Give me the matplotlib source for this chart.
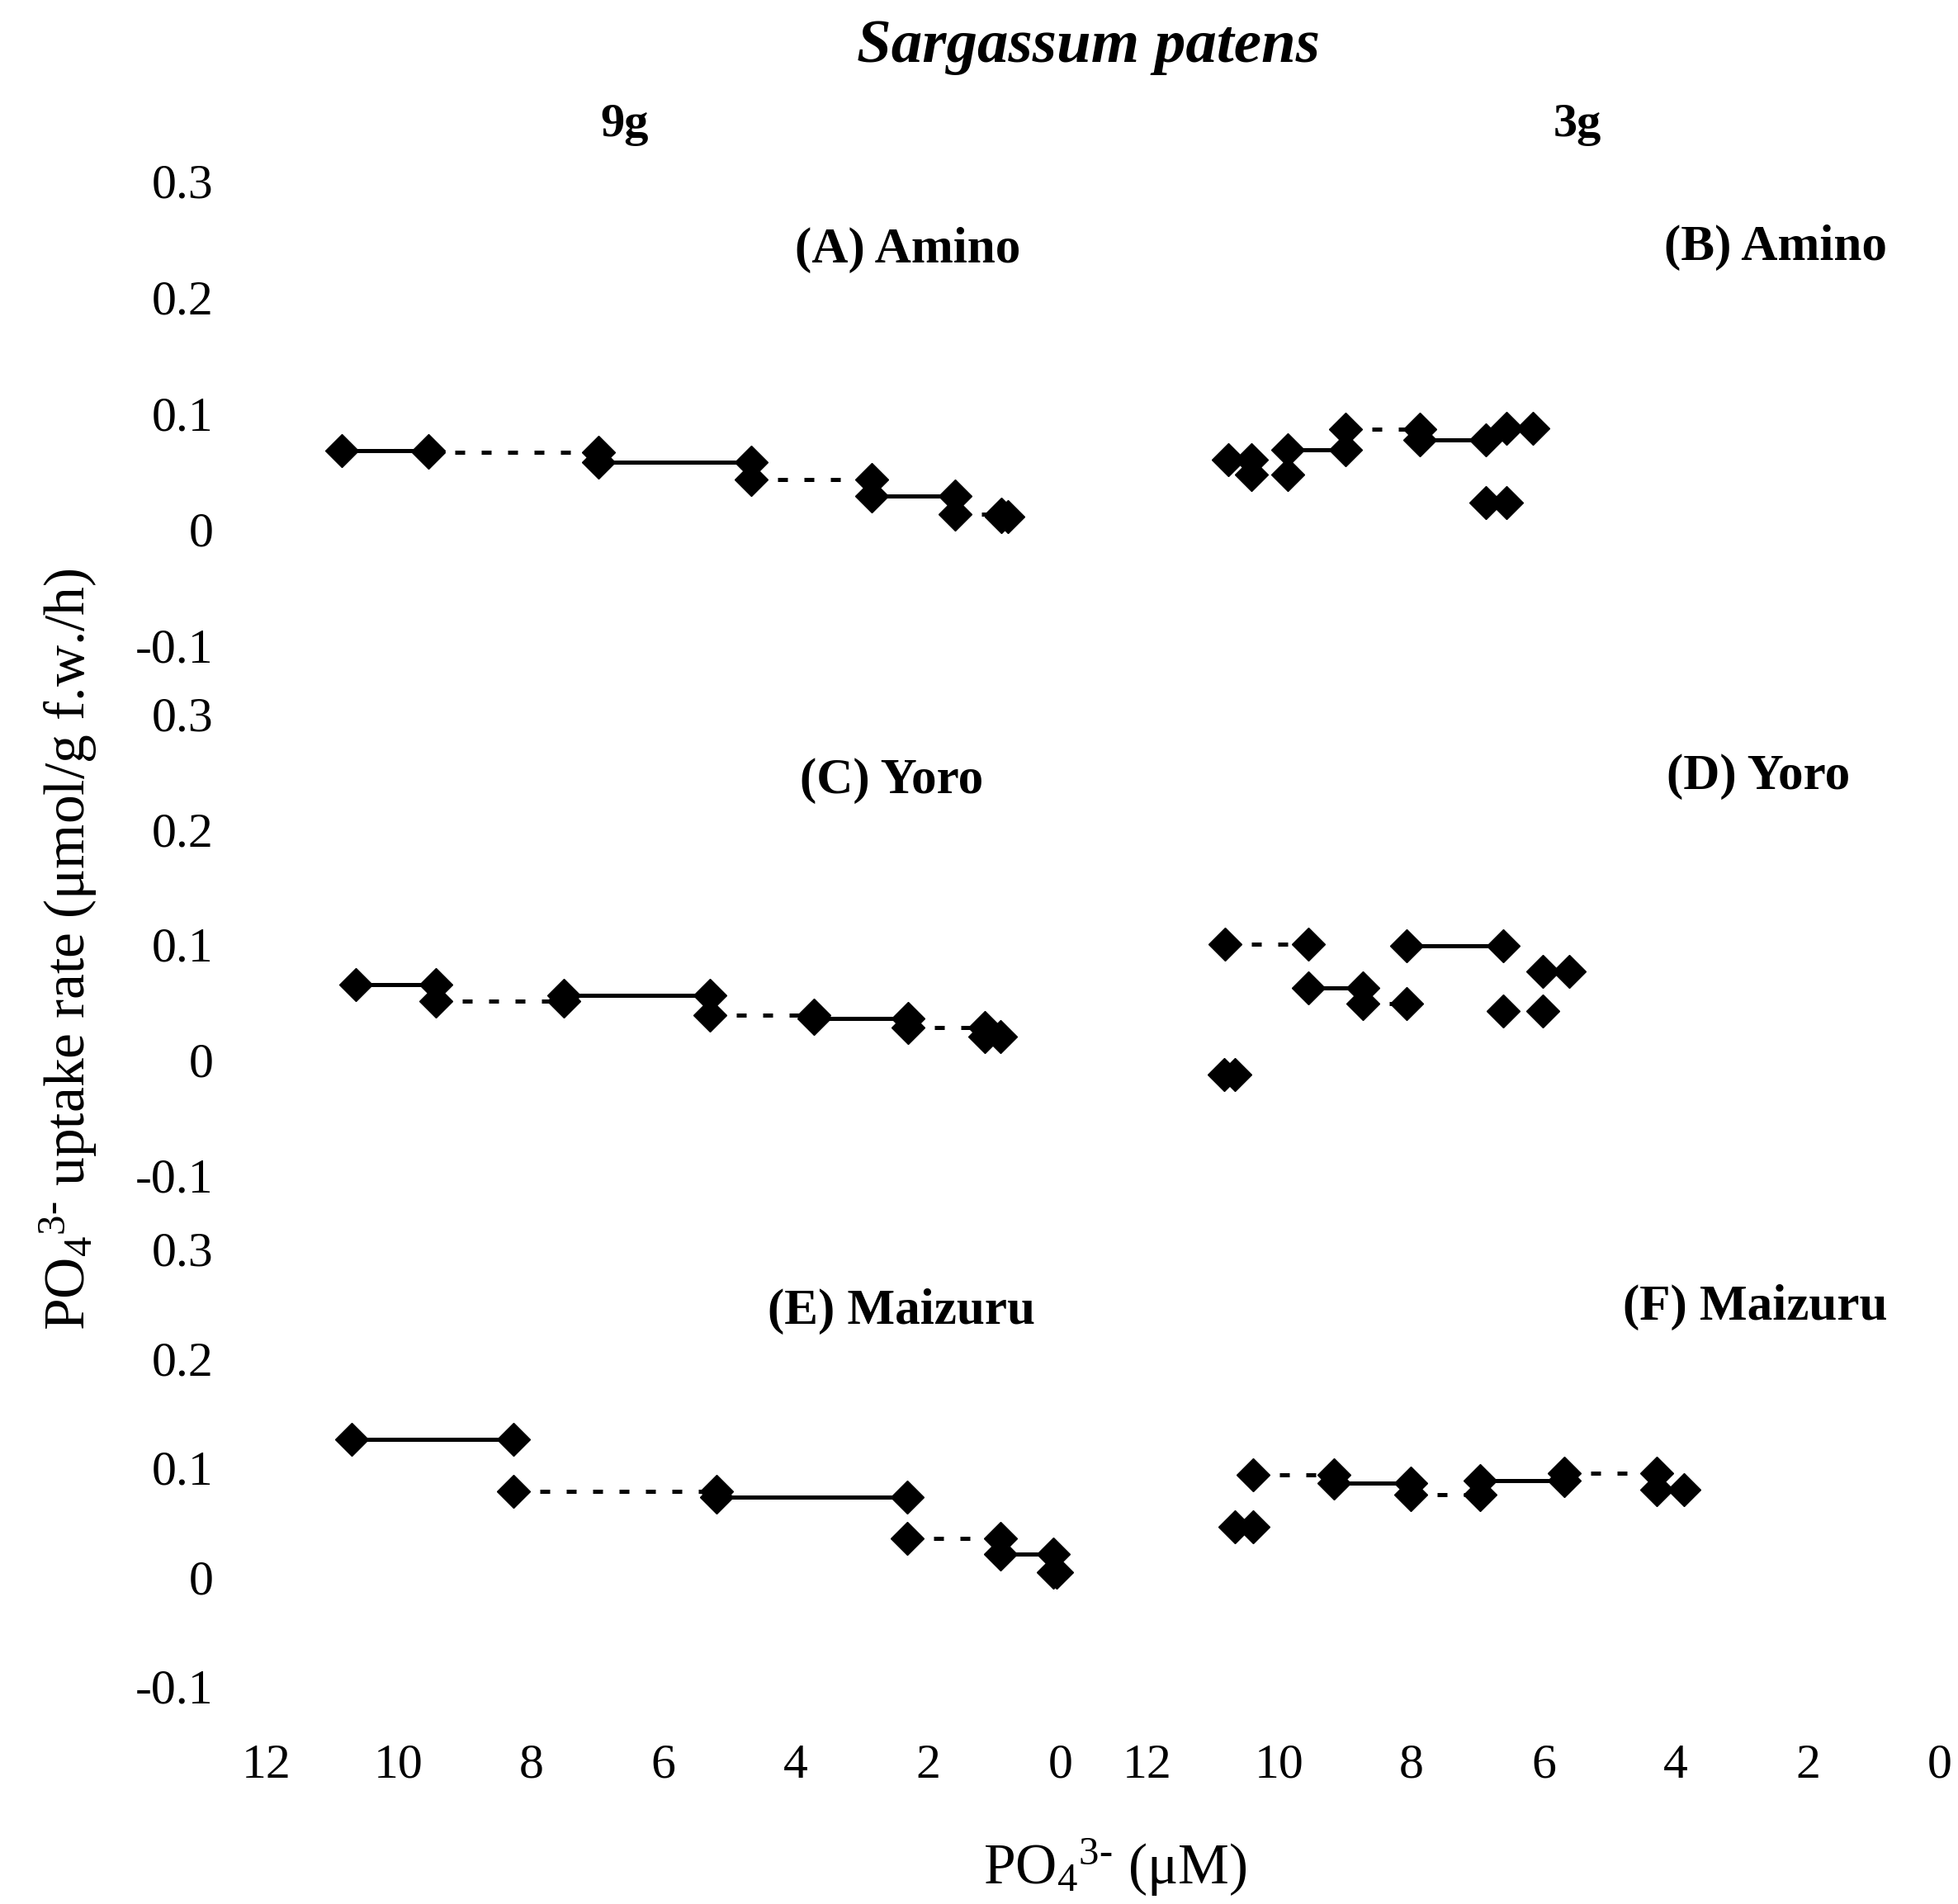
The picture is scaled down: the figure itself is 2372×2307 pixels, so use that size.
import matplotlib
matplotlib.use('Agg')
from matplotlib import pyplot as plt

plt.rcParams['font.family'] = ['Liberation Serif', 'DejaVu Serif']
plt.rcParams['mathtext.fontset'] = 'custom'
plt.rcParams['mathtext.rm'] = 'Liberation Serif'
plt.rcParams['mathtext.it'] = 'Liberation Serif:italic'
plt.rcParams['axes.unicode_minus'] = False

# each step: PO4 at start, PO4 at end, uptake rate over that step
# steps alternate solid / dotted, starting solid

# (A) Amino 9g
a_start = [10.86, 9.55, 6.98, 4.68, 2.85, 1.60, 0.90]
a_end = [9.55, 6.98, 4.68, 2.85, 1.60, 0.90, 0.80]
a_rate = [0.068, 0.066, 0.058, 0.043, 0.029, 0.013, 0.011]

# (B) Amino 3g
b_start = [10.78, 10.42, 9.87, 9.00, 7.88, 6.87, 6.56]
b_end = [10.42, 9.87, 9.00, 7.88, 6.87, 6.56, 6.16]
b_rate = [0.060, 0.047, 0.0685, 0.086, 0.077, 0.023, 0.087]

# (C) Yoro 9g
c_start = [10.65, 9.44, 7.51, 5.30, 3.73, 2.30, 1.15]
c_end = [9.44, 7.51, 5.30, 3.73, 2.30, 1.15, 0.91]
c_rate = [0.065, 0.051, 0.056, 0.039, 0.036, 0.028, 0.020]

# (D) Yoro 3g
d_start = [10.84, 10.82, 9.56, 8.74, 8.08, 6.61, 6.01]
d_end = [10.67, 9.56, 8.74, 8.08, 6.61, 6.01, 5.61]
d_rate = [-0.013, 0.100, 0.062, 0.049, 0.099, 0.042, 0.077]

# (E) Maizuru 9g
e_start = [10.71, 8.27, 5.20, 2.32, 0.91, 0.11]
e_end = [8.27, 5.20, 2.32, 0.91, 0.11, 0.06]
e_rate = [0.126, 0.078, 0.073, 0.035, 0.021, 0.004]

# (F) Maizuru 3g
f_start = [10.67, 10.40, 9.18, 8.01, 6.96, 5.69, 4.29]
f_end = [10.40, 9.18, 8.01, 6.96, 5.69, 4.29, 3.87]
f_rate = [0.046, 0.093, 0.086, 0.075, 0.088, 0.095, 0.080]

panel_titles = ['(A) Amino', '(B) Amino', '(C) Yoro', '(D) Yoro', '(E) Maizuru', '(F) Maizuru']
y_ticks = [0.3, 0.2, 0.1, 0, -0.1]
y_ticklabels = ['0.3', '0.2', '0.1', '0', '-0.1']
x_ticks = [12, 10, 8, 6, 4, 2, 0]
x_ticklabels = ['12', '10', '8', '6', '4', '2', '0']

panels = [(a_start, a_end, a_rate), (b_start, b_end, b_rate),
          (c_start, c_end, c_rate), (d_start, d_end, d_rate),
          (e_start, e_end, e_rate), (f_start, f_end, f_rate)]

# axes boxes [left, bottom, width, height] in figure fraction
col_x = [(0.1360, 0.4057), (0.5860, 0.4047)]
row_y = [(0.6610, 0.2440), (0.3828, 0.2423), (0.1144, 0.2297)]
title_pos = [(0.808, 0.851), (0.793, 0.856), (0.787, 0.855),
             (0.771, 0.864), (0.800, 0.857), (0.767, 0.866)]

fig = plt.figure(figsize=(23.72, 23.07), dpi=100)


def plot_steps(ax, start, end, rate):
    for i in range(len(rate)):
        if i % 2 == 0:
            ls = '-'
        else:
            ls = (0, (2.4, 4.0))
        ax.plot([start[i], end[i]], [rate[i], rate[i]], color='black', lw=3.6,
                linestyle=ls, marker='D', markersize=20, markeredgewidth=1,
                markerfacecolor='black', markeredgecolor='black',
                solid_capstyle='butt', clip_on=False)


for n, (start, end, rate) in enumerate(panels):
    row, col = n // 2, n % 2
    ax = fig.add_axes([col_x[col][0], row_y[row][0], col_x[col][1], row_y[row][1]])
    plot_steps(ax, start, end, rate)
    ax.set_xlim(12, 0)
    ax.set_ylim(-0.1, 0.3)
    for s in ax.spines.values():
        s.set_visible(False)
    ax.tick_params(length=0, labelsize=43)
    ax.set_yticks(y_ticks)
    if col == 0:
        ax.set_yticklabels(y_ticklabels)
        ax.tick_params(axis='y', pad=46)
    else:
        ax.set_yticklabels([])
    ax.set_xticks(x_ticks)
    if row == 2:
        ax.set_xticklabels(x_ticklabels)
        ax.tick_params(axis='x', pad=50)
    else:
        ax.set_xticklabels([])
    ax.text(title_pos[n][0], title_pos[n][1], panel_titles[n], transform=ax.transAxes,
            ha='center', va='center', fontsize=44, fontweight='bold')

fig.text(0.556, 0.9753, 'Sargassum patens', ha='center', va='center',
         fontsize=54, fontweight='bold', fontstyle='italic')
fig.text(0.3191, 0.9345, '9g', ha='center', va='center', fontsize=42, fontweight='bold')
fig.text(0.8057, 0.9345, '3g', ha='center', va='center', fontsize=42, fontweight='bold')
fig.text(0.035, 0.5015, r'PO$_4$$^{3\text{-}}$ uptake rate (μmol/g f.w./h)', rotation=90,
         ha='center', va='center', fontsize=50)
fig.text(0.5696, 0.0191, r'PO$_4$$^{3\text{-}}$ (μM)', ha='center', va='center', fontsize=50)

plt.savefig('out.png', dpi=100)
